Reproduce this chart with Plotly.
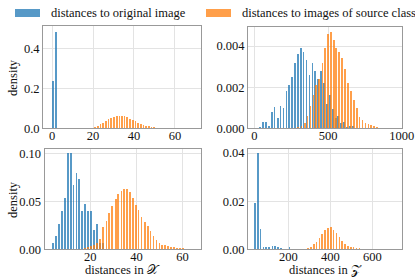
import plotly.graph_objects as go

# ---------------- data ----------------
# top-left panel (distances in X, first experiment)
tl_blue_x = [0.3, 1.95, 3.6]
tl_blue_y = [0.235, 0.48, 0.003]
tl_orange_x = [18.4, 19.7, 21.0, 22.4, 23.6, 24.9, 26.3, 27.6, 28.9, 30.2, 31.7, 33.0, 34.1,
               35.4, 36.7, 38.0, 39.5, 40.8, 42.1, 43.4, 44.7, 46.0, 47.3, 48.6, 49.9, 51.2,
               52.5, 53.8, 55.1, 56.4, 57.7, 59.0, 60.3, 61.6, 62.9, 64.2, 65.5, 66.8, 68.1]
tl_orange_y = [0.002, 0.004, 0.008, 0.013, 0.020, 0.028, 0.037, 0.045, 0.052, 0.057, 0.062, 0.063, 0.063,
               0.060, 0.055, 0.048, 0.042, 0.035, 0.028, 0.022, 0.017, 0.013, 0.010, 0.008, 0.006, 0.004,
               0.003, 0.0025, 0.002, 0.0015, 0.001, 0.0008, 0.0006, 0.0005, 0.0004, 0.0003, 0.0002, 0.0002, 0.0001]

# top-right panel (distances in Z, first experiment)
tr_blue_x = [40, 60, 80, 100, 119, 137, 158, 178, 198, 219, 237, 257, 275, 295, 316, 334, 354, 374,
             394, 412, 433, 453, 471, 491, 511, 532, 552, 570, 588, 608, 630, 647, 667]
tr_blue_y = [0.00008, 0.0003, 0.0003, 0.0001, 0.00077, 0.00103, 0.00048, 0.0011, 0.0010, 0.0018, 0.0021,
             0.0025, 0.0032, 0.0036, 0.0039, 0.0037, 0.0033, 0.0026, 0.0032, 0.0028, 0.0024, 0.0028, 0.0022,
             0.00116, 0.0016, 0.00095, 0.0005, 0.00062, 0.00026, 0.0003, 0.00005, 0.0001, 0.0001]
tr_orange_x = [297, 320, 343, 361, 381, 401, 421, 441, 462, 480, 500, 520, 538, 556, 577, 597, 617, 638,
               657, 678, 696, 714, 734, 754, 774, 794, 814, 834]
tr_orange_y = [0.00005, 0.0001, 0.00028, 0.0006, 0.0011, 0.0016, 0.0021, 0.0024, 0.0032, 0.0039, 0.0046,
               0.0047, 0.0043, 0.0039, 0.0037, 0.0034, 0.0029, 0.0022, 0.0018, 0.0014, 0.00097, 0.00056,
               0.0004, 0.00025, 0.0002, 0.00015, 0.0001, 0.00005]

# bottom-left panel (distances in X, second experiment)
bl_blue_x = [3.5, 4.9, 6.2, 7.5, 8.8, 10.1, 11.3, 12.5, 13.8, 15.0, 16.3, 17.6, 18.9, 20.2, 21.5, 22.7, 24.0, 25.2]
bl_blue_y = [0.007, 0.014, 0.027, 0.040, 0.054, 0.101, 0.101, 0.067, 0.080, 0.074, 0.040, 0.047, 0.040,
             0.040, 0.020, 0.027, 0.007, 0.007]
bl_orange_x = [17.6, 18.9, 20.2, 21.4, 22.7, 23.9, 25.4, 26.8, 28.0, 29.3, 30.8, 31.9, 33.3, 34.4, 35.6,
               36.9, 38.2, 39.6, 40.7, 42.0, 43.4, 44.7, 45.9, 47.2, 48.5, 49.8, 51.0, 52.3, 53.5, 54.8,
               56.1, 57.4, 58.6, 59.9, 61.2, 62.5, 63.8]
bl_orange_y = [0.001, 0.002, 0.003, 0.004, 0.0066, 0.011, 0.023, 0.030, 0.038, 0.045, 0.053, 0.058, 0.0615,
               0.063, 0.063, 0.060, 0.054, 0.046, 0.041, 0.034, 0.029, 0.024, 0.019, 0.014, 0.010, 0.0066,
               0.005, 0.004, 0.003, 0.0025, 0.002, 0.0015, 0.001, 0.001, 0.0007, 0.0005, 0.0003]

# bottom-right panel (distances in Z, second experiment)
br_blue_x = [40, 54, 68, 81, 95, 109, 124, 137, 151, 165, 206]
br_blue_y = [0.0194, 0.040, 0.0083, 0.0008, 0.0008, 0.0008, 0.0014, 0.0014, 0.0008, 0.0007, 0.0008]
br_orange_x = [278, 294, 307, 321, 334, 348, 361, 375, 388, 402, 415, 429, 443, 456, 470, 483, 497,
               510, 524, 538, 551]
br_orange_y = [0.0003, 0.0006, 0.0011, 0.0021, 0.0032, 0.0047, 0.0065, 0.0082, 0.0090, 0.0091, 0.0082,
               0.0068, 0.0051, 0.0035, 0.0024, 0.0015, 0.0011, 0.0008, 0.0006, 0.0004, 0.0002]

legend_labels = ["distances to original image", "distances to images of source class"]
x_titles = ["distances in \U0001D4B3", "distances in \U0001D4B5"]
y_title = "density"

# ---------------- style ----------------
W, H = 415, 277
BLUE = "rgba(31,119,180,0.75)"
ORANGE = "rgba(255,127,14,0.75)"
FONT = "Liberation Serif"
FS = 12.5


def px(x):
    return x / W


def py(y):
    return 1 - y / H


fig = go.Figure()

panels = [
    # (blue x, blue y, orange x, orange y, blue width, orange width, axis suffix)
    (tl_blue_x, tl_blue_y, tl_orange_x, tl_orange_y, 0.95, 0.8, ""),
    (tr_blue_x, tr_blue_y, tr_orange_x, tr_orange_y, 12, 12, "2"),
    (bl_blue_x, bl_blue_y, bl_orange_x, bl_orange_y, 0.75, 0.75, "3"),
    (br_blue_x, br_blue_y, br_orange_x, br_orange_y, 8, 8, "4"),
]
for bx, by, ox, oy, bw, ow, s in panels:
    fig.add_trace(go.Bar(x=bx, y=by, width=bw, marker=dict(color=BLUE, line=dict(width=0)),
                         name=legend_labels[0], showlegend=False, hoverinfo="skip",
                         xaxis="x" + s, yaxis="y" + s))
    fig.add_trace(go.Bar(x=ox, y=oy, width=ow, marker=dict(color=ORANGE, line=dict(width=0)),
                         name=legend_labels[1], showlegend=False, hoverinfo="skip",
                         xaxis="x" + s, yaxis="y" + s))

axis_common = dict(showline=True, mirror=True, linecolor="#999999", linewidth=1,
                   showgrid=True, gridcolor="#e3e3e3", gridwidth=1, zeroline=False,
                   ticks="", automargin=False,
                   tickfont=dict(family=FONT, size=FS, color="#111"))
xax = dict(ticklabelstandoff=-4, **axis_common)
yax = dict(ticklabelstandoff=0, **axis_common)

fig.update_layout(
    template="none",
    width=W, height=H, margin=dict(l=0, r=0, t=0, b=0, pad=0), autosize=False,
    paper_bgcolor="white", plot_bgcolor="white", barmode="overlay", bargap=0,
    font=dict(family=FONT, size=FS, color="#111"),
    xaxis=dict(domain=[px(43), px(201)], range=[-4.4, 72.7], dtick=20, tick0=0, anchor="y", **xax),
    yaxis=dict(domain=[py(128.3), py(26)], range=[0, 0.511], dtick=0.2, tickformat=".1f", anchor="x", **yax),
    xaxis2=dict(domain=[px(248), px(402)], range=[-43, 1002], dtick=500, tick0=0, anchor="y2", **xax),
    yaxis2=dict(domain=[py(128.3), py(27)], range=[0, 0.00493], dtick=0.002, tickformat=".3f", anchor="x2", **yax),
    xaxis3=dict(domain=[px(44.5), px(201)], range=[0.15, 68.0], dtick=20, tick0=0, anchor="y3", **xax),
    yaxis3=dict(domain=[py(249.3), py(149)], range=[0, 0.105], dtick=0.05, tickformat=".2f", anchor="x3", **yax),
    xaxis4=dict(domain=[px(248), px(402)], range=[8, 741], dtick=200, tick0=0, anchor="y4", **xax),
    yaxis4=dict(domain=[py(249.3), py(149)], range=[0, 0.0417], dtick=0.02, tickformat=".2f", anchor="x4", **yax),
)

# legend drawn as patches + labels
fig.add_shape(type="rect", xref="paper", yref="paper", x0=px(15), x1=px(40), y0=py(17), y1=py(9),
              fillcolor=BLUE, line=dict(width=0))
fig.add_shape(type="rect", xref="paper", yref="paper", x0=px(206), x1=px(231), y0=py(17), y1=py(9),
              fillcolor=ORANGE, line=dict(width=0))
fig.add_annotation(text=legend_labels[0], xref="paper", yref="paper", x=px(49), y=py(13),
                   xanchor="left", yanchor="middle", showarrow=False, font=dict(family=FONT, size=FS, color="#111"))
fig.add_annotation(text=legend_labels[1], xref="paper", yref="paper", x=px(240), y=py(13),
                   xanchor="left", yanchor="middle", showarrow=False, font=dict(family=FONT, size=FS, color="#111"))

# axis titles
for yc in (78, 200):
    fig.add_annotation(text=y_title, xref="paper", yref="paper", x=px(13), y=py(yc), textangle=-90,
                       xanchor="center", yanchor="middle", showarrow=False,
                       font=dict(family=FONT, size=FS, color="#111"))
fig.add_annotation(text=x_titles[0], xref="paper", yref="paper", x=px(122.5), y=py(270),
                   xanchor="center", yanchor="middle", showarrow=False, font=dict(family=FONT, size=FS, color="#111"))
fig.add_annotation(text=x_titles[1], xref="paper", yref="paper", x=px(325), y=py(270),
                   xanchor="center", yanchor="middle", showarrow=False, font=dict(family=FONT, size=FS, color="#111"))

fig.write_html("out.html", config={"displayModeBar": False},
               post_script="document.body.style.margin='0';")
